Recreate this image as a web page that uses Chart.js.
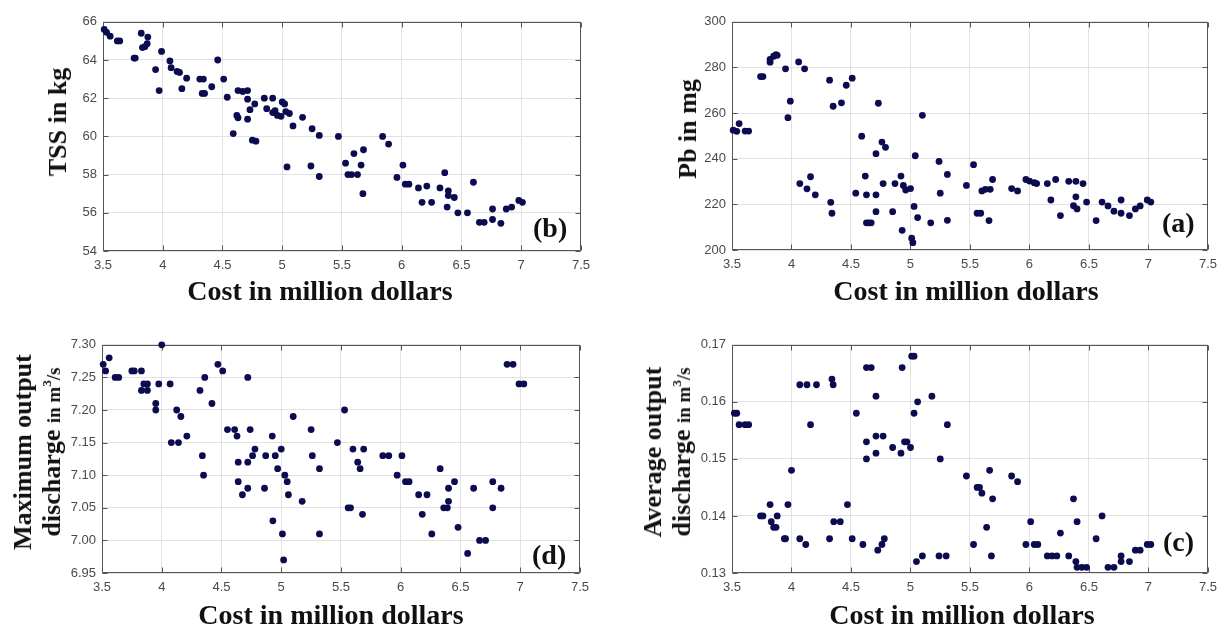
<!DOCTYPE html>
<html>
<head>
<meta charset="utf-8">
<script src="https://cdn.jsdelivr.net/npm/chart.js@4.4.0/dist/chart.umd.min.js"></script>
<style>
  html, body { margin: 0; padding: 0; background: #fff; }
  body { width: 1224px; height: 630px; position: relative; overflow: hidden; }
  .panel { position: absolute; }
  .panel canvas { display: block; }
  .lbl {
    position: absolute; white-space: nowrap; line-height: 1; color: #111;
    font-family: "Liberation Serif", "Times New Roman", serif; font-weight: bold;
  }
  .xt { font-size: 28px; transform: translateX(-50%); }
  .tag { font-size: 28px; }
  .yt {
    font-size: 26px; text-align: center;
    transform: translate(-50%, -50%) rotate(-90deg);
  }
  .yt2 { line-height: 29px; }
  .yt2 small { font-size: 19px; }
  .yt2 sup { font-size: 13px; vertical-align: 9px; line-height: 0; }
</style>
</head>
<body>

<div class="panel" id="pTSS"><canvas></canvas></div>
<div class="panel" id="pPb"><canvas></canvas></div>
<div class="panel" id="pQmax"><canvas></canvas></div>
<div class="panel" id="pQavg"><canvas></canvas></div>

<!-- axis titles -->
<div class="lbl yt" style="left:58px; top:122px;">TSS in kg</div>
<div class="lbl yt" style="left:688px; top:129px;">Pb in mg</div>
<div class="lbl yt yt2" style="left:38px; top:452px;">Maximum output<br>discharge <small>in m<sup>3</sup>/s</small></div>
<div class="lbl yt yt2" style="left:668px; top:452px;">Average output<br>discharge <small>in m<sup>3</sup>/s</small></div>

<div class="lbl xt" style="left:320px; top:277px;">Cost in million dollars</div>
<div class="lbl xt" style="left:966px; top:277px;">Cost in million dollars</div>
<div class="lbl xt" style="left:331px; top:601px;">Cost in million dollars</div>
<div class="lbl xt" style="left:962px; top:601px;">Cost in million dollars</div>

<!-- panel letters -->
<div class="lbl tag" style="left:533px; top:214px;">(b)</div>
<div class="lbl tag" style="left:1162px; top:209px;">(a)</div>
<div class="lbl tag" style="left:532px; top:541px;">(d)</div>
<div class="lbl tag" style="left:1163px; top:528px;">(c)</div>

<script>
// ---- tick values ----
const X_TICKS = [3.5, 4, 4.5, 5, 5.5, 6, 6.5, 7, 7.5];
const TSS_TICKS = [54, 56, 58, 60, 62, 64, 66];
const PB_TICKS = [200, 220, 240, 260, 280, 300];
const QMAX_TICKS = [6.95, 7.00, 7.05, 7.10, 7.15, 7.20, 7.25, 7.30];
const QAVG_TICKS = [0.13, 0.14, 0.15, 0.16, 0.17];

// ---- (b) TSS vs cost ----
const costTSS = [3.51, 3.53, 3.56, 3.62, 3.64, 3.76, 3.77, 3.82, 3.83, 3.85, 3.875, 3.87, 3.94, 3.97, 3.99,
  4.06, 4.07, 4.12, 4.14, 4.16, 4.20, 4.31, 4.34, 4.33, 4.35, 4.41, 4.46, 4.51, 4.54, 4.59,
  4.62, 4.63, 4.63, 4.67, 4.71, 4.71, 4.71, 4.73, 4.75, 4.78, 4.77, 4.85, 4.87, 4.92, 4.92,
  4.94, 4.96, 4.99, 5.00, 5.02, 5.03, 5.06, 5.04, 5.09, 5.17, 5.24, 5.25, 5.31, 5.31, 5.47,
  5.53, 5.55, 5.58, 5.63, 5.60, 5.66, 5.68, 5.675, 5.84, 5.89, 5.96, 6.01, 6.03, 6.06, 6.14,
  6.17, 6.25, 6.21, 6.32, 6.36, 6.39, 6.39, 6.44, 6.38, 6.47, 6.55, 6.60, 6.65, 6.69, 6.76,
  6.76, 6.83, 6.875, 6.92, 6.98, 7.01];
const tssKg = [65.6, 65.45, 65.25, 65.0, 65.0, 64.1, 64.1, 65.4, 64.65, 64.7, 65.2, 64.85, 63.5, 62.4, 64.45,
  63.95, 63.6, 63.4, 63.35, 62.5, 63.05, 63.0, 63.0, 62.25, 62.25, 62.6, 64.0, 63.0, 62.05, 60.15,
  61.1, 60.97, 62.4, 62.35, 62.4, 61.95, 60.9, 61.4, 59.8, 59.75, 61.7, 62.0, 61.45, 62.0, 61.25,
  61.35, 61.1, 61.05, 61.8, 61.7, 61.3, 61.2, 58.4, 60.55, 61.0, 58.45, 60.4, 60.05, 57.9, 60.0,
  58.6, 58.0, 58.0, 58.0, 59.1, 58.5, 59.3, 57.0, 60.0, 59.6, 57.85, 58.5, 57.5, 57.5, 57.3,
  56.55, 56.55, 57.4, 57.3, 58.1, 57.15, 56.9, 56.8, 56.3, 56.0, 56.0, 57.6, 55.5, 55.5, 56.2,
  55.65, 55.45, 56.2, 56.3, 56.65, 56.55];

// ---- (a) Pb vs cost ----
const costPb = [3.51, 3.54, 3.56, 3.61, 3.64, 3.74, 3.76, 3.82, 3.82, 3.85, 3.87, 3.88, 3.95, 3.97, 3.99,
  4.06, 4.11, 4.07, 4.13, 4.16, 4.20, 4.32, 4.35, 4.42, 4.46, 4.51, 4.33, 4.34, 4.54, 4.59,
  4.62, 4.63, 4.63, 4.65, 4.67, 4.71, 4.71, 4.71, 4.73, 4.76, 4.79, 4.77, 4.85, 4.87, 4.92,
  4.93, 4.94, 4.96, 5.00, 5.01, 5.02, 5.03, 5.04, 5.06, 5.10, 5.17, 5.24, 5.25, 5.31, 5.31,
  5.47, 5.53, 5.56, 5.59, 5.60, 5.63, 5.67, 5.66, 5.69, 5.85, 5.90, 5.97, 6.00, 6.04, 6.06,
  6.15, 6.18, 6.22, 6.26, 6.33, 6.39, 6.45, 6.39, 6.37, 6.40, 6.48, 6.56, 6.61, 6.66, 6.71,
  6.77, 6.77, 6.84, 6.89, 6.93, 6.99, 7.02];
const pbMg = [252.5, 252.0, 255.4, 252.1, 252.1, 276, 276, 282.3, 283.5, 284.9, 285.6, 285.3, 279.4, 258, 265.2,
  282.4, 279.4, 229.1, 226.8, 232.1, 224.2, 274.4, 263, 264.5, 272.2, 275.3, 220.9, 216.1, 224.9, 249.9,
  232.4, 224.2, 211.9, 211.9, 211.9, 224.2, 216.8, 242.2, 264.3, 247.3, 245, 229.1, 216.8, 229.1, 232.4,
  208.6, 228.3, 226.3, 226.9, 205.2, 203.2, 219.1, 241.3, 214.2, 259, 211.9, 238.8, 224.9, 233.1, 213,
  228.3, 237.4, 216.1, 216.1, 225.9, 226.6, 226.6, 212.9, 230.9, 226.9, 225.9, 230.9, 230.2, 229.5, 229.1,
  229.1, 221.9, 230.9, 215.1, 230.1, 230.1, 229.1, 223.3, 219.4, 218, 221, 212.9, 221, 219.3, 217,
  216.1, 221.9, 215.1, 218, 219.3, 221.9, 221];

// ---- (d) maximum output discharge vs cost ----
const costQmax = [3.51, 3.53, 3.56, 3.61, 3.64, 3.75, 3.77, 3.83, 3.83, 3.85, 3.88, 3.88, 3.95, 3.95, 3.975,
  4.00, 4.07, 4.08, 4.14, 4.125, 4.16, 4.21, 4.32, 4.34, 4.35, 4.36, 4.42, 4.47, 4.51, 4.55,
  4.61, 4.63, 4.64, 4.64, 4.675, 4.72, 4.72, 4.72, 4.74, 4.76, 4.78, 4.86, 4.87, 4.925, 4.93,
  4.95, 4.97, 5.00, 5.01, 5.02, 5.03, 5.05, 5.06, 5.10, 5.175, 5.25, 5.26, 5.32, 5.32, 5.47,
  5.53, 5.56, 5.58, 5.60, 5.64, 5.66, 5.68, 5.69, 5.85, 5.90, 5.97, 6.01, 6.04, 6.07, 6.15,
  6.22, 6.18, 6.26, 6.33, 6.36, 6.39, 6.40, 6.40, 6.45, 6.48, 6.56, 6.61, 6.66, 6.71, 6.77,
  6.77, 6.84, 6.89, 6.94, 6.99, 7.03];
const qmaxM3s = [7.27, 7.26, 7.28, 7.25, 7.25, 7.26, 7.26, 7.26, 7.23, 7.24, 7.24, 7.23, 7.21, 7.20, 7.24,
  7.30, 7.24, 7.15, 7.15, 7.20, 7.19, 7.16, 7.23, 7.13, 7.10, 7.25, 7.21, 7.27, 7.26, 7.17,
  7.17, 7.16, 7.12, 7.09, 7.07, 7.25, 7.12, 7.08, 7.17, 7.13, 7.14, 7.08, 7.13, 7.16, 7.03,
  7.13, 7.11, 7.14, 7.01, 6.97, 7.10, 7.09, 7.07, 7.19, 7.06, 7.17, 7.13, 7.11, 7.01, 7.15,
  7.20, 7.05, 7.05, 7.14, 7.12, 7.11, 7.04, 7.14, 7.13, 7.13, 7.10, 7.13, 7.09, 7.09, 7.07,
  7.07, 7.04, 7.01, 7.11, 7.05, 7.05, 7.08, 7.06, 7.09, 7.02, 6.98, 7.08, 7.00, 7.00, 7.09,
  7.05, 7.08, 7.27, 7.27, 7.24, 7.24];

// ---- (c) average output discharge vs cost ----
const costQavg = [3.52, 3.54, 3.56, 3.61, 3.64, 3.74, 3.76, 3.82, 3.83, 3.85, 3.87, 3.88, 3.94, 3.95, 3.97,
  4.00, 4.07, 4.07, 4.13, 4.21, 4.12, 4.16, 4.32, 4.34, 4.35, 4.355, 4.41, 4.47, 4.51, 4.545,
  4.60, 4.63, 4.63, 4.63, 4.67, 4.71, 4.71, 4.77, 4.71, 4.725, 4.76, 4.78, 4.85, 4.93, 4.92,
  4.95, 4.97, 5.00, 5.01, 5.03, 5.03, 5.06, 5.05, 5.10, 5.18, 5.25, 5.24, 5.30, 5.31, 5.47,
  5.56, 5.58, 5.60, 5.53, 5.64, 5.665, 5.68, 5.69, 5.85, 5.90, 5.97, 6.01, 6.04, 6.07, 6.15,
  6.19, 6.23, 6.26, 6.33, 6.37, 6.40, 6.39, 6.40, 6.44, 6.48, 6.56, 6.61, 6.66, 6.71, 6.77,
  6.77, 6.84, 6.89, 6.93, 6.99, 7.02];
const qavgM3s = [0.158, 0.158, 0.156, 0.156, 0.156, 0.140, 0.140, 0.142, 0.139, 0.138, 0.138, 0.140, 0.136, 0.136, 0.142,
  0.148, 0.136, 0.163, 0.163, 0.163, 0.135, 0.156, 0.136, 0.164, 0.163, 0.139, 0.139, 0.142, 0.136, 0.158,
  0.135, 0.150, 0.153, 0.166, 0.166, 0.161, 0.154, 0.154, 0.151, 0.134, 0.135, 0.136, 0.152, 0.166, 0.151,
  0.153, 0.153, 0.152, 0.168, 0.168, 0.158, 0.160, 0.132, 0.133, 0.161, 0.150, 0.133, 0.133, 0.156, 0.147,
  0.145, 0.145, 0.144, 0.135, 0.138, 0.148, 0.133, 0.143, 0.147, 0.146, 0.135, 0.139, 0.135, 0.135, 0.133,
  0.133, 0.133, 0.137, 0.133, 0.143, 0.139, 0.132, 0.131, 0.131, 0.131, 0.136, 0.140, 0.131, 0.131, 0.133,
  0.132, 0.132, 0.134, 0.134, 0.135, 0.135];

// ---- styling ----
const DOT = '#0b0b4f';
const GRID = '#e2e2e2';
const FRAME = '#555555';
const TICK_TEXT = '#4a4a4a';
const TICK_LEN = 5;
const AXIS_W = 60, AXIS_H = 30, PAD_T = 10, PAD_R = 14;

// Box around the plot area with inward tick marks on all four sides.
const boxFrame = {
  id: 'boxFrame',
  beforeDatasetsDraw(chart) {
    const { ctx, chartArea: a, scales } = chart;
    const L = Math.round(a.left) + 0.5, T = Math.round(a.top) + 0.5;
    const R = Math.round(a.right) - 0.5, B = Math.round(a.bottom) - 0.5;
    ctx.save();
    ctx.strokeStyle = FRAME;
    ctx.lineWidth = 1;
    ctx.beginPath();
    ctx.rect(L, T, R - L, B - T);
    scales.x.ticks.forEach(t => {
      const px = Math.round(scales.x.getPixelForValue(t.value)) + 0.5;
      ctx.moveTo(px, B); ctx.lineTo(px, B - TICK_LEN);
      ctx.moveTo(px, T); ctx.lineTo(px, T + TICK_LEN);
    });
    scales.y.ticks.forEach(t => {
      const py = Math.round(scales.y.getPixelForValue(t.value)) + 0.5;
      ctx.moveTo(L, py); ctx.lineTo(L + TICK_LEN, py);
      ctx.moveTo(R, py); ctx.lineTo(R - TICK_LEN, py);
    });
    ctx.stroke();
    ctx.restore();
  }
};

function makePanel(id, area, xs, ys, yTicks, yDigits) {
  const holder = document.getElementById(id);
  holder.style.left = (area.left - AXIS_W) + 'px';
  holder.style.top = (area.top - PAD_T) + 'px';
  holder.style.width = (area.width + AXIS_W + PAD_R) + 'px';
  holder.style.height = (area.height + PAD_T + AXIS_H) + 'px';
  const tickFont = { family: '"Liberation Sans", Arial, sans-serif', size: 13 };
  return new Chart(holder.querySelector('canvas'), {
    type: 'scatter',
    data: {
      datasets: [{
        data: xs.map((x, i) => ({ x: x, y: ys[i] })),
        backgroundColor: DOT,
        borderWidth: 0,
        pointRadius: 3.4,
        pointHoverRadius: 3.4,
        clip: false
      }]
    },
    options: {
      responsive: true,
      maintainAspectRatio: false,
      animation: false,
      devicePixelRatio: 1,
      events: [],
      layout: { padding: { top: PAD_T, right: PAD_R, left: 0, bottom: 0 } },
      plugins: { legend: { display: false }, tooltip: { enabled: false } },
      scales: {
        x: {
          type: 'linear',
          min: X_TICKS[0],
          max: X_TICKS[X_TICKS.length - 1],
          afterBuildTicks: s => { s.ticks = X_TICKS.map(v => ({ value: v })); },
          afterFit: s => { s.height = AXIS_H; },
          border: { display: false },
          grid: { color: GRID, lineWidth: 1, drawTicks: false },
          ticks: {
            color: TICK_TEXT, font: tickFont, padding: 7,
            maxRotation: 0, autoSkip: false,
            callback: v => String(v)
          }
        },
        y: {
          type: 'linear',
          min: yTicks[0],
          max: yTicks[yTicks.length - 1],
          afterBuildTicks: s => { s.ticks = yTicks.map(v => ({ value: v })); },
          afterFit: s => { s.width = AXIS_W; },
          border: { display: false },
          grid: { color: GRID, lineWidth: 1, drawTicks: false },
          ticks: {
            color: TICK_TEXT, font: tickFont, padding: 6, autoSkip: false,
            callback: v => Number(v).toFixed(yDigits)
          }
        }
      }
    },
    plugins: [boxFrame]
  });
}

makePanel('pTSS',  { left: 103, top: 18,  width: 480, height: 233 }, costTSS,  tssKg,   TSS_TICKS,  0);
makePanel('pPb',   { left: 732, top: 18,  width: 478, height: 232 }, costPb,   pbMg,    PB_TICKS,   0);
makePanel('pQmax', { left: 102, top: 341, width: 480, height: 232 }, costQmax, qmaxM3s, QMAX_TICKS, 2);
makePanel('pQavg', { left: 732, top: 341, width: 478, height: 232 }, costQavg, qavgM3s, QAVG_TICKS, 2);
</script>
</body>
</html>
